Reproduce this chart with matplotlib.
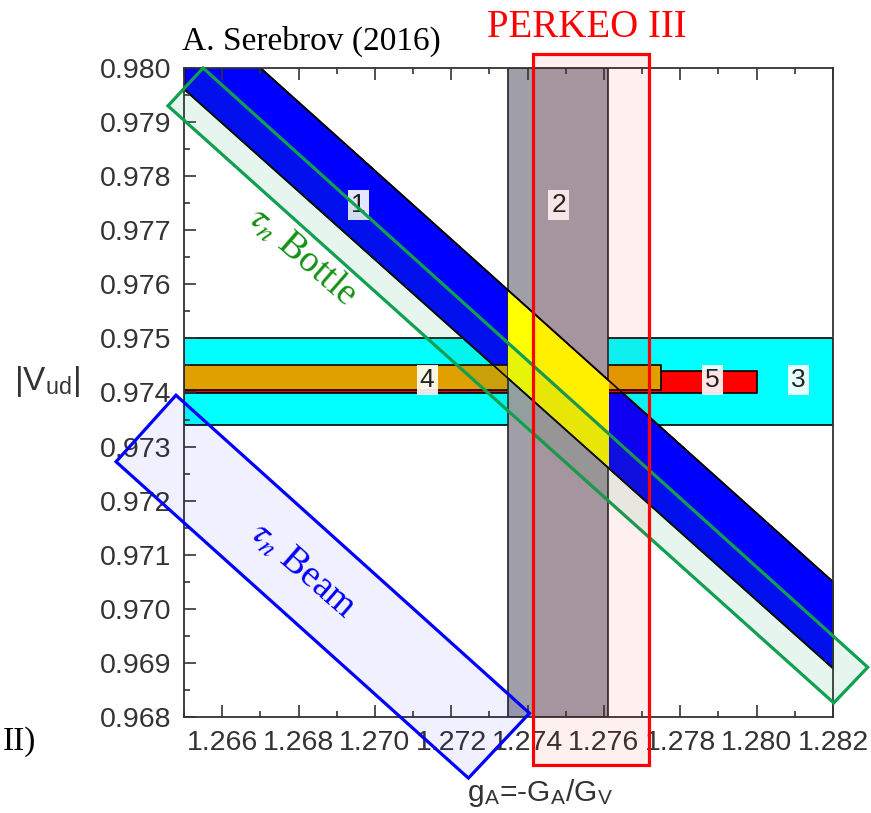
import numpy as np
import matplotlib.pyplot as plt
from matplotlib.patches import Polygon, Rectangle

plt.rcParams['font.family'] = ['Liberation Sans', 'DejaVu Sans']
plt.rcParams['mathtext.fontset'] = 'stix'

#%% data
g_lim = [1.265, 1.282]
v_lim = [0.968, 0.980]
g_ticks = [1.266, 1.268, 1.270, 1.272, 1.274, 1.276, 1.278, 1.280, 1.282]
v_ticks = [0.968, 0.969, 0.970, 0.971, 0.972, 0.973, 0.974,
           0.975, 0.976, 0.977, 0.978, 0.979, 0.980]

# 1: diagonal band
band1_g = [1.265, 1.282]
band1_hi = [0.98127, 0.9705]
band1_lo = [0.97961, 0.9689]
# 2: vertical band
band2_g = [1.27348, 1.2761]
# 3: horizontal band
band3_v = [0.9734, 0.9750]
# 4 and 5: short horizontal bands
band4_g = [1.265, 1.2775]
band4_v = [0.97405, 0.97450]
band5_g = [1.265, 1.2800]
band5_v = [0.97399, 0.97440]

lab_txt = ['1', '2', '3', '4', '5']
lab_g = [1.26956, 1.27481, 1.28110, 1.27137, 1.27885]
lab_v = [0.97747, 0.97747, 0.97423, 0.97423, 0.97423]

# highlight boxes (corners)
bottle_g = [1.26458, 1.26550, 1.28291, 1.28202]
bottle_v = [0.97930, 0.98000, 0.96892, 0.96826]
beam_g = [1.26479, 1.26322, 1.27245, 1.27405]
beam_v = [0.97395, 0.97272, 0.96687, 0.96807]
perkeo_g = [1.27415, 1.27717]
perkeo_v = [0.96711, 0.98026]

#%% plot
W, H = 871, 813
fig = plt.figure(figsize=(W/100, H/100), dpi=100)
ax = fig.add_axes([184/W, 1-717/H, 649/W, 649/H])
ax.set_xlim(g_lim)
ax.set_ylim(v_lim)

ax.axhspan(band3_v[0], band3_v[1], fc='#00ffff', ec='black', lw=1.2, zorder=0.5)
ax.fill_between(band1_g, band1_lo, band1_hi, fc='#0000ff', ec='black', lw=1.2, zorder=0.6)
ax.add_patch(Rectangle((band5_g[0], band5_v[0]), band5_g[1]-band5_g[0], band5_v[1]-band5_v[0],
                       fc='#ff0000', ec='black', lw=1.2, zorder=0.7))
ax.add_patch(Rectangle((band4_g[0], band4_v[0]), band4_g[1]-band4_g[0], band4_v[1]-band4_v[0],
                       fc='#e0a000', ec='black', lw=1.2, zorder=0.8))
gray = ax.axvspan(band2_g[0], band2_g[1], fc='#a09fa8', ec='#222222', lw=1.2, zorder=0.9)
yel = ax.fill_between(band1_g, band1_lo, band1_hi, fc='#ffff00', ec='black', lw=1.2, zorder=1.0)
clip = Rectangle((band2_g[0], v_lim[0]), band2_g[1]-band2_g[0], v_lim[1]-v_lim[0],
                 transform=ax.transData)
yel.set_clip_path(clip)
ax.plot(band1_g, band1_hi, color='black', lw=1.2, zorder=1.1)
ax.plot(band1_g, band1_lo, color='black', lw=1.2, zorder=1.1)

for t, g, v in zip(lab_txt, lab_g, lab_v):
    ax.text(g, v, t, fontsize=19, color='#222222', ha='center', va='center', zorder=1.5,
            bbox=dict(boxstyle='square,pad=0.12', fc='white', ec='none', alpha=0.9))

green = '#10a050'
ax.add_patch(Polygon(np.column_stack([bottle_g, bottle_v]), closed=True, fc=green, alpha=0.1,
                     ec='none', clip_on=False, zorder=5))
ax.add_patch(Polygon(np.column_stack([bottle_g, bottle_v]), closed=True, fill=False,
                     ec=green, lw=2.3, clip_on=False, zorder=5))
ax.add_patch(Polygon(np.column_stack([beam_g, beam_v]), closed=True, fc='#0000ff', alpha=0.06,
                     ec='none', clip_on=False, zorder=5))
ax.add_patch(Polygon(np.column_stack([beam_g, beam_v]), closed=True, fill=False,
                     ec='#0000ff', lw=2.3, clip_on=False, zorder=5))
ax.add_patch(Rectangle((perkeo_g[0], perkeo_v[0]), perkeo_g[1]-perkeo_g[0], perkeo_v[1]-perkeo_v[0],
                       fc='#ff0000', alpha=0.06, ec='none', clip_on=False, zorder=5))
ax.add_patch(Rectangle((perkeo_g[0], perkeo_v[0]), perkeo_g[1]-perkeo_g[0], perkeo_v[1]-perkeo_v[0],
                       fill=False, ec='#ff0000', lw=2.3, clip_on=False, zorder=5))

ax.text(1.26810, 0.97652, r'$\tau_n$ Bottle', color='#109010', fontsize=27,
        family='Liberation Serif', rotation=-41, ha='center', va='center',
        rotation_mode='anchor', zorder=6)
ax.text(1.26810, 0.97070, r'$\tau_n$ Beam', color='#0000ff', fontsize=27,
        family='Liberation Serif', rotation=-41, ha='center', va='center',
        rotation_mode='anchor', zorder=6)

ax.set_xticks(g_ticks)
ax.set_xticklabels(['%.3f' % g for g in g_ticks])
ax.set_yticks(v_ticks)
ax.set_yticklabels(['%.3f' % v for v in v_ticks])
ax.set_xticks(np.arange(1.265, 1.2825, 0.001), minor=True)
ax.set_yticks(np.arange(0.968, 0.9801, 0.0005), minor=True)
ax.tick_params(which='both', direction='in', top=True, right=False, color='#333333', width=1.2)
ax.tick_params(which='major', length=8.5, labelsize=20.5, labelcolor='#333333', pad=9)
ax.tick_params(which='minor', length=4.5)
for s in ax.spines.values():
    s.set_color('#333333')
    s.set_linewidth(1.3)

ax.set_ylabel(r'|V$_{\mathregular{ud}}$|', rotation=0, fontsize=24, color='#333333')
ax.yaxis.set_label_coords(-0.21, 0.49)
ax.set_xlabel(r'g$_{\mathregular{A}}$=-G$_{\mathregular{A}}$/G$_{\mathregular{V}}$',
              fontsize=21.5, color='#333333')
ax.xaxis.set_label_coords(0.549, -0.093)

fig.text(182/W, 1-50/H, 'A. Serebrov (2016)', fontsize=24, family='Liberation Serif',
         ha='left', va='baseline')
fig.text(587/W, 1-37/H, 'PERKEO III', fontsize=28, family='Liberation Serif',
         color='#ff0000', ha='center', va='baseline')
fig.text(3/W, 1-750/H, 'II)', fontsize=24, family='Liberation Serif', ha='left', va='baseline')

fig.savefig('out.png', dpi=100)
